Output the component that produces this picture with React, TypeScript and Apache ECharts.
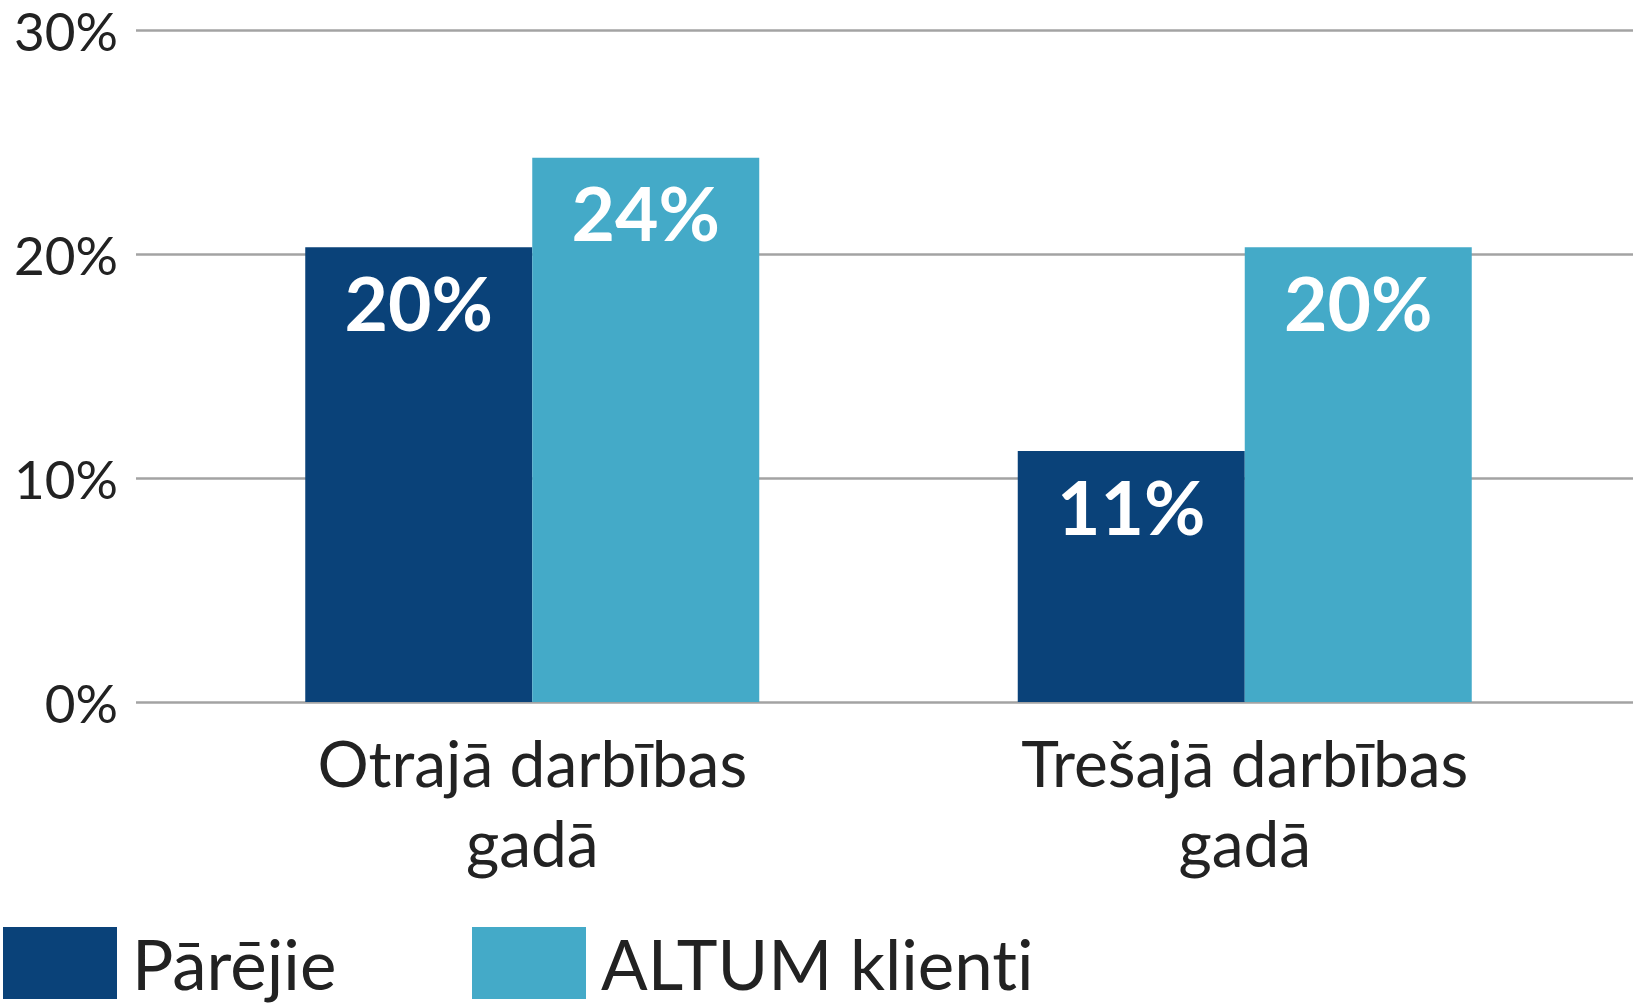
import React, { useEffect, useRef } from "react";
import * as echarts from "echarts";

const categories = ["Otrajā darbības\ngadā", "Trešajā darbības\ngadā"];
const seriesNames = ["Pārējie", "ALTUM klienti"];
const parejie = [20.3, 11.2];
const altum = [24.3, 20.3];
const yMin = 0;
const yMax = 30;
const yInterval = 10;

const DARK = "#0a4279";
const LIGHT = "#44aac8";
const TEXT = "#222222";
const FONT = "Lato";

export default function App() {
  const ref = useRef<HTMLDivElement>(null);
  useEffect(() => {
    if (!ref.current) return;
    const chart = echarts.init(ref.current, null, { renderer: "svg" });
    const labelStyle = {
      show: true,
      position: "insideTop",
      distance: 17,
      color: "#ffffff",
      fontSize: 75,
      fontWeight: "bold",
      fontFamily: FONT,
      formatter: (p: any) => Math.round(p.value) + "%",
    };
    const legendBase = {
      top: 927,
      itemWidth: 114,
      itemHeight: 72,
      itemGap: 0,
      padding: 0,
      icon: "rect",
      selectedMode: false,
      textStyle: {
        fontSize: 69,
        fontFamily: FONT,
        color: TEXT,
        padding: [0, 0, 0, 10],
        lineHeight: 72,
      },
    };
    chart.setOption({
      animation: false,
      backgroundColor: "#ffffff",
      grid: [
        { left: 136, right: 0, top: 30, bottom: 304, containLabel: false },
        { left: 176, width: 1425, top: 30, bottom: 304, containLabel: false },
      ],
      legend: [
        { ...legendBase, left: 3, data: [seriesNames[0]] },
        { ...legendBase, left: 472, data: [seriesNames[1]] },
      ],
      xAxis: [
        { type: "value", gridIndex: 0, show: false, min: 0, max: 1 },
        {
          type: "category",
          gridIndex: 1,
          data: categories,
          axisLine: { show: false },
          axisTick: { show: false },
          axisLabel: {
            margin: 20,
            fontSize: 64,
            lineHeight: 80,
            fontFamily: FONT,
            color: TEXT,
          },
        },
      ],
      yAxis: [
        {
          type: "value",
          gridIndex: 0,
          min: yMin,
          max: yMax,
          interval: yInterval,
          axisLine: { show: false },
          axisTick: { show: false },
          axisLabel: {
            formatter: "{value}%",
            margin: 18,
            fontSize: 53,
            lineHeight: 50,
            padding: [6, 0, 0, 0],
            fontFamily: FONT,
            color: TEXT,
          },
          splitLine: { lineStyle: { color: "#a3a3a3", width: 2.5 } },
        },
        {
          type: "value",
          gridIndex: 1,
          min: yMin,
          max: yMax,
          interval: yInterval,
          show: false,
          splitLine: { show: false },
        },
      ],
      series: [
        {
          name: seriesNames[0],
          type: "bar",
          xAxisIndex: 1,
          yAxisIndex: 1,
          data: parejie,
          barWidth: 227,
          barGap: "0%",
          itemStyle: { color: DARK },
          label: labelStyle,
        },
        {
          name: seriesNames[1],
          type: "bar",
          xAxisIndex: 1,
          yAxisIndex: 1,
          data: altum,
          barWidth: 227,
          barGap: "0%",
          itemStyle: { color: LIGHT },
          label: labelStyle,
        },
      ],
    });
    return () => chart.dispose();
  }, []);
  return (
    <>
      <style>{"svg text { font-variant-ligatures: none; font-feature-settings: 'liga' 0, 'clig' 0; }"}</style>
      <div
        ref={ref}
        style={{ position: "absolute", left: 0, top: 0, width: 1633, height: 1006 }}
      />
    </>
  );
}
